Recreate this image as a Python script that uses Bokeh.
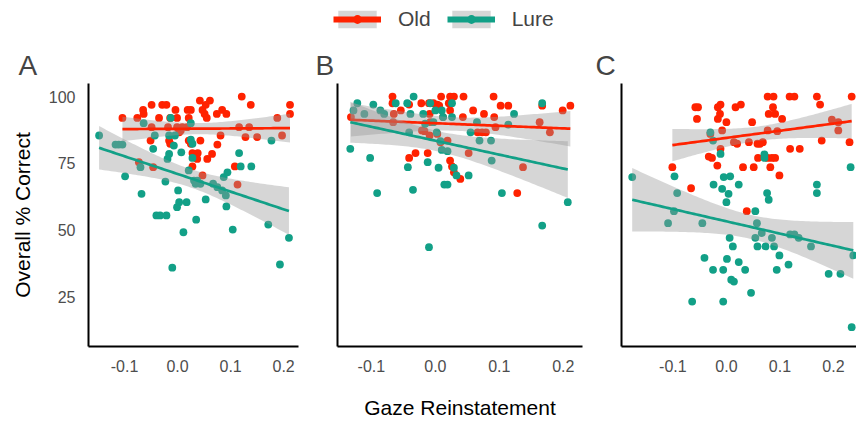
import numpy as np
from bokeh.plotting import figure
from bokeh.models import Range1d, FixedTicker, PrintfTickFormatter, Legend, LegendItem
from bokeh.layouts import column, row
from bokeh.embed import file_html
from bokeh.resources import INLINE

FONT = "Liberation Sans"
OLD_C = "#FF2200"
LURE_C = "#12A087"
BAND_C = "#999999"

SERIES = ["Old", "Lure"]
PANELS = ["A", "B", "C"]
X_TICKS = [-0.1, 0.0, 0.1, 0.2]
Y_TICKS = [25, 50, 75, 100]
Y_LIM = (6.25, 104.9)
X_LIM_A = (-0.168, 0.228)
X_LIM_B = (-0.153, 0.230)
X_LIM_C = (-0.196, 0.243)

# ---------------- Panel A ----------------
A_old_x = [-0.104, -0.076, -0.065, -0.064, -0.049, -0.049, -0.035, -0.029, -0.021, -0.018,
           -0.014, -0.004, -0.001, -0.001, 0.003, 0.006, -0.051, -0.016, -0.014, 0.019,
           0.025, 0.021, 0.018, 0.009, 0.021, 0.025, 0.028, 0.042, 0.047, 0.051,
           0.055, 0.061, 0.053, 0.043, 0.038, 0.037, 0.028, 0.056, 0.065, 0.075,
           0.074, 0.084, 0.092, 0.081, 0.116, 0.121, 0.135, 0.138, 0.128, 0.150,
           0.188, 0.197, 0.212, 0.212, -0.073, -0.046, 0.047, 0.108, 0.113]
A_old_y = [92, 92, 95, 93.5, 96.9, 88.5, 92, 96.9, 96.9, 88.5,
           92, 95, 92, 88.5, 86.6, 87.3, 83.5, 83.5, 82.3, 95,
           95, 92, 88.5, 88.5, 83.5, 82.3, 78.8, 98.5, 95, 93.5,
           92, 98.5, 96.9, 83.5, 78.8, 76.6, 73.8, 76.6, 78.5, 82,
           93.5, 95, 93.5, 85.4, 88.5, 100, 88.5, 96.9, 84.8, 84.8,
           92, 85.4, 96.9, 93.5, 75.4, 73.5, 70.4, 73.8, 67]
A_lure_x = [-0.148, -0.117, -0.111, -0.104, -0.099, -0.068, -0.070, -0.064, -0.046, -0.043,
            -0.040, -0.033, -0.021, -0.023, -0.019, -0.016, -0.013, -0.016, -0.007, -0.005,
            0.001, -0.001, 0.003, 0.017, 0.007, 0.011, 0.025, 0.021, 0.028, 0.031,
            0.034, 0.037, 0.043, 0.035, 0.053, 0.067, 0.075, 0.084, 0.087, 0.092,
            0.094, 0.091, 0.104, 0.116, 0.119, 0.139, 0.177, 0.171, 0.193, 0.210,
            -0.010, 0.025, 0.028]
A_lure_y = [85.4, 82, 82, 82, 70.1, 63.5, 73.5, 90, 80.4, 85.4,
            55.4, 55.4, 55.4, 68.1, 76.6, 78.5, 92, 85.4, 81.6, 85.4,
            64.8, 58.5, 60.4, 60.4, 79.1, 49.1, 90, 72.3, 77, 68.5,
            67.3, 68.5, 67.3, 53.8, 61.4, 67.3, 66, 64.8, 69.8, 58.8,
            71.6, 62.9, 50.1, 78.8, 73.8, 73.8, 83.5, 52, 37, 47,
            35.8, 83.8, 82.3]

# ---------------- Panel B ----------------
B_old_x = [-0.132, -0.067, -0.067, -0.054, -0.065, -0.066, -0.041, -0.022, -0.010, -0.009,
           -0.003, 0.003, 0.006, 0.009, 0.012, 0.023, 0.029, 0.044, 0.021, 0.023,
           0.043, 0.059, 0.076, 0.091, 0.092, 0.102, 0.114, 0.167, 0.199, 0.211,
           0.163, 0.179, -0.021, -0.017, -0.008, -0.009, 0.003, 0.008, 0.019, 0.066,
           0.073, 0.079, 0.094, -0.031, -0.041, -0.012, 0.023, 0.026, 0.029, 0.039,
           0.052, 0.137, 0.128]
B_old_y = [92.3, 100, 97.5, 94.8, 93.5, 90.4, 97, 97.5, 97.5, 93.5,
           97.5, 97, 96.6, 100, 92.3, 100, 100, 100, 97.5, 94.8,
           92.3, 94.8, 93.5, 100, 92.3, 96.6, 96.6, 96.6, 94.8, 96.6,
           90.4, 86.6, 87.3, 87, 90.4, 85.4, 86, 82.9, 83.5, 86.6,
           86.6, 86.6, 88.5, 78.8, 77, 78.8, 76, 73.8, 71.6, 69.1,
           78.8, 73.5, 63.8]
B_lure_x = [-0.133, -0.128, -0.122, -0.111, -0.097, -0.102, -0.091, -0.086, -0.080, -0.062,
            -0.044, -0.039, -0.034, -0.041, -0.043, -0.035, -0.019, -0.016, -0.012, -0.008,
            0.000, -0.003, 0.002, 0.010, 0.012, 0.026, 0.026, 0.005, 0.008, 0.010,
            0.019, 0.014, 0.019, 0.029, 0.033, 0.052, -0.010, 0.055, 0.065, 0.069,
            0.087, 0.088, 0.104, 0.114, 0.123, 0.167, 0.167, 0.207]
B_lure_y = [80.4, 94.8, 97.5, 93.5, 97, 77, 63.8, 94.8, 93.5, 97.5,
            97.5, 93.5, 100, 86.6, 73.5, 65, 93.5, 89.8, 75.4, 97.5,
            94.8, 90.4, 86.6, 94.8, 92.3, 97.5, 92.3, 73.3, 83.3, 80,
            79.5, 67, 67, 73.3, 70.4, 70.4, 43.5, 86.6, 90.4, 83.5,
            83.5, 76, 63.8, 89.5, 93.5, 97.5, 51.6, 60.4]

# ---------------- Panel C ----------------
C_old_x = [-0.058, -0.053, -0.055, -0.016, -0.011, -0.012, -0.016, 0.000, 0.017, 0.027,
           -0.008, -0.030, -0.033, -0.027, -0.017, -0.011, -0.101, -0.066, 0.014, 0.020,
           0.042, 0.048, 0.058, 0.063, 0.068, 0.059, 0.077, 0.088, 0.079, 0.087,
           0.091, 0.104, 0.077, 0.095, 0.077, 0.085, 0.091, 0.031, 0.051, 0.082,
           0.099, 0.038, 0.118, 0.127, 0.119, 0.137, 0.169, 0.175, 0.178, 0.197,
           0.209, 0.209, 0.230, 0.234]
C_old_y = [96, 96, 91.6, 96, 97, 93.5, 91.6, 90.4, 96, 97,
           87.3, 86, 77.5, 77, 74.1, 80.4, 73.5, 65.6, 82.9, 82.3,
           82.9, 90.4, 82.3, 82.3, 82.9, 77, 100, 100, 93.5, 96,
           93.5, 91.6, 87.3, 87, 77, 77, 77, 73.5, 73.5, 73.5,
           70.4, 57, 100, 100, 80.4, 80.4, 100, 97, 83.5, 91.3,
           90.4, 87.3, 82.9, 100]
C_lure_x = [-0.176, -0.097, -0.092, -0.098, -0.109, -0.045, -0.064, -0.041, -0.030, -0.025,
            -0.024, -0.025, -0.011, -0.008, -0.006, -0.006, -0.005, 0.007, 0.004, 0.000,
            0.006, 0.012, 0.001, 0.023, 0.023, 0.035, 0.009, 0.014, 0.046, 0.054,
            0.057, 0.054, 0.058, 0.066, 0.071, 0.071, 0.076, 0.079, 0.073, 0.085,
            0.089, 0.099, 0.094, 0.116, 0.119, 0.127, 0.135, 0.158, 0.169, 0.169,
            0.191, 0.213, 0.232, 0.237, 0.234]
C_lure_y = [69.8, 70.1, 63.8, 57, 52.5, 52.5, 23.1, 39.5, 86.6, 83.5,
            67, 35, 78.5, 65.4, 35, 23.1, 69.8, 70.1, 63.5, 60.4,
            47, 43.8, 39.1, 67, 37.9, 35, 31.3, 30.6, 26.4, 57,
            52.5, 47, 43.8, 48.8, 78.3, 77, 63.8, 61.3, 43.8, 47,
            43.8, 40.4, 35, 37, 48.3, 48.3, 47, 43.8, 67, 63.8,
            33.5, 33.5, 73.5, 40.4, 13.5]


def smooth(x, y, n=80, t=2.01):
    """Linear fit with 95% confidence band of the mean (like geom_smooth(method='lm'))."""
    x = np.asarray(x, float)
    y = np.asarray(y, float)
    slope, icpt = np.polyfit(x, y, 1)
    xs = np.linspace(x.min(), x.max(), n)
    fit = icpt + slope * xs
    res = y - (icpt + slope * x)
    s = np.sqrt((res ** 2).sum() / (len(x) - 2))
    se = s * np.sqrt(1.0 / len(x) + (xs - x.mean()) ** 2 / ((x - x.mean()) ** 2).sum())
    return xs, fit, fit - t * se, fit + t * se


def style_axis(ax):
    ax.axis_line_width = 2
    ax.axis_line_color = "black"
    ax.major_tick_out = 0
    ax.major_tick_in = 0
    ax.minor_tick_out = 0
    ax.minor_tick_in = 0
    ax.major_label_text_font = FONT
    ax.major_label_text_color = "#4D4D4D"
    ax.major_label_text_font_size = "16px"
    ax.major_label_standoff = 13
    ax.axis_label_text_font = FONT
    ax.axis_label_text_font_size = "21px"
    ax.axis_label_text_font_style = "normal"
    ax.axis_label_text_color = "black"


def panel(letter, xlim, old_x, old_y, lure_x, lure_y, width, bl, br, title_offset,
          show_y=False, xlabel=None):
    p = figure(width=width, height=382, x_range=Range1d(*xlim), y_range=Range1d(*Y_LIM),
               output_backend="svg", toolbar_location=None,
               min_border_left=bl, min_border_right=br, min_border_top=43, min_border_bottom=76)
    p.outline_line_color = None
    p.xgrid.visible = False
    p.ygrid.visible = False
    p.background_fill_color = "white"
    p.border_fill_color = "white"

    p.title.text = letter
    p.title.text_font = FONT
    p.title.text_font_size = "28px"
    p.title.text_font_style = "normal"
    p.title.align = "left"
    p.title.offset = title_offset
    p.title.standoff = 5

    p.scatter(old_x, old_y, size=7.8, fill_color=OLD_C, line_color=None)
    p.scatter(lure_x, lure_y, size=7.8, fill_color=LURE_C, line_color=None)
    for xs_, ys_, col in ((old_x, old_y, OLD_C), (lure_x, lure_y, LURE_C)):
        xs, fit, lo, hi = smooth(xs_, ys_)
        p.varea(x=xs, y1=lo, y2=hi, fill_color=BAND_C, fill_alpha=0.4)
        p.line(xs, fit, line_color=col, line_width=2.7)

    xa = p.xaxis[0]
    style_axis(xa)
    xa.ticker = FixedTicker(ticks=X_TICKS)
    xa.formatter = PrintfTickFormatter(format="%.1f")
    if xlabel:
        xa.axis_label = xlabel
        xa.axis_label_standoff = 21

    ya = p.yaxis[0]
    style_axis(ya)
    if show_y:
        ya.ticker = FixedTicker(ticks=Y_TICKS)
        ya.axis_label = "Overall % Correct"
        ya.axis_label_standoff = 12
    else:
        ya.ticker = FixedTicker(ticks=[])
        ya.major_label_standoff = 0
    return p


pA = panel("A", X_LIM_A, A_old_x, A_old_y, A_lure_x, A_lure_y, 300, 88, 2, -70, show_y=True)
pB = panel("B", X_LIM_B, B_old_x, B_old_y, B_lure_x, B_lure_y, 284, 37, 2, -22,
           xlabel="Gaze Reinstatement")
pC = panel("C", X_LIM_C, C_old_x, C_old_y, C_lure_x, C_lure_y, 272, 37, 0, -26)

# ---------------- legend strip ----------------
lg = figure(width=856, height=40, x_range=Range1d(0, 1), y_range=Range1d(0, 1),
            x_axis_type=None, y_axis_type=None, output_backend="svg", toolbar_location=None,
            min_border=0)
lg.outline_line_color = None
lg.grid.visible = False
items = []
for name, col in zip(SERIES, (OLD_C, LURE_C)):
    rb = lg.varea(x=[-5, -4], y1=[0, 0], y2=[1, 1], fill_color=BAND_C, fill_alpha=0.4)
    rl = lg.line([-5, -4], [0.5, 0.5], line_color=col, line_width=6)
    rp = lg.scatter([-5], [0.5], size=9, fill_color=col, line_color=None)
    items.append(LegendItem(label=name, renderers=[rb, rl, rp]))
legend = Legend(items=items, orientation="horizontal", location=(333, 9),
                glyph_width=48, glyph_height=22, label_standoff=17, spacing=16,
                padding=0, margin=0, border_line_color=None, background_fill_alpha=0,
                label_text_font=FONT, label_text_font_size="21px", label_height=22)
lg.add_layout(legend)

layout = column(lg, row(pA, pB, pC))
open("out.html", "w").write(file_html(layout, INLINE, title="Gaze reinstatement"))
